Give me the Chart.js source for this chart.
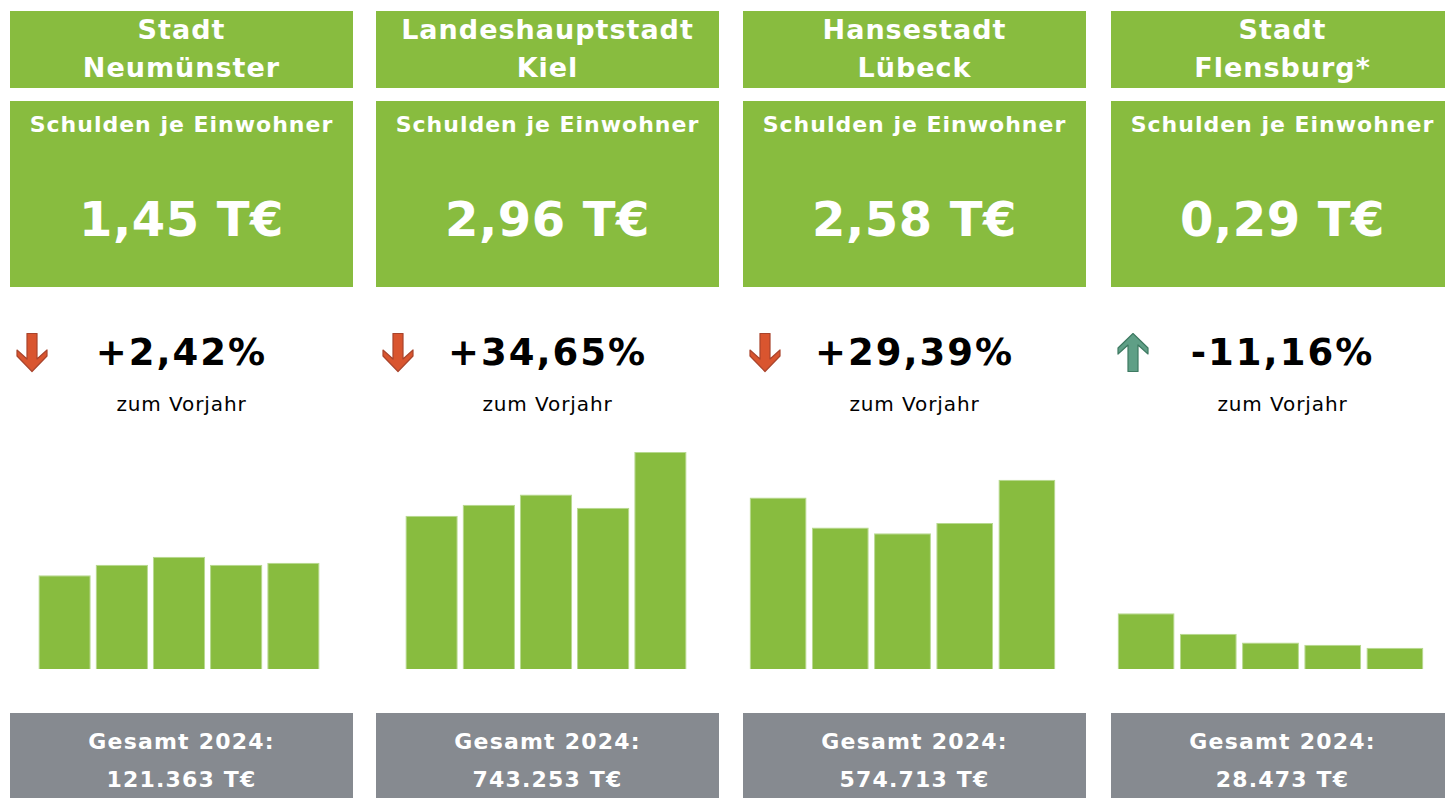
<!DOCTYPE html>
<html>
<head>
<meta charset="utf-8">
<script src="https://cdn.jsdelivr.net/npm/chart.js@4/dist/chart.umd.min.js"></script>
<style>
  html, body { margin: 0; padding: 0; background: #fff; }
  body { width: 1445px; height: 798px; overflow: hidden; position: relative;
         font-family: "DejaVu Sans", Verdana, sans-serif; }
  .box { position: absolute; background: #88bc3f; color: #fff; font-weight: bold; text-align: center; }
  .head { top: 11px; height: 77px; font-size: 27px; line-height: 38px; letter-spacing: 1px; }
  .value { top: 101px; height: 186px; }
  .value .lbl { position: absolute; left: 0; right: 0; top: 11px; font-size: 22px; letter-spacing: 1px; }
  .value .num { position: absolute; left: 0; right: 0; top: 90px; font-size: 48px; letter-spacing: 0.5px; }
  .pct { position: absolute; top: 331px; font-size: 37px; font-weight: bold; text-align: center; color: #000; letter-spacing: 2px; }
  .sub { position: absolute; top: 392px; font-size: 20px; text-align: center; color: #000; letter-spacing: 0.9px; }
  .arrow { position: absolute; top: 333px; }
  .foot { position: absolute; top: 713px; height: 100px; background: #868a90; color: #fff;
          font-weight: bold; text-align: center; font-size: 22px; line-height: 38px; letter-spacing: 1.2px; }
  .foot div:first-child { margin-top: 10px; }
  canvas { position: absolute; }
</style>
</head>
<body>
<script>
// --- DATA ---
const cityTop = ['Stadt', 'Landeshauptstadt', 'Hansestadt', 'Stadt'];
const cityName = ['Neumünster', 'Kiel', 'Lübeck', 'Flensburg*'];
const perResident = ['1,45 T€', '2,96 T€', '2,58 T€', '0,29 T€'];
const changePct = ['+2,42%', '+34,65%', '+29,39%', '-11,16%'];
const totals2024 = ['121.363 T€', '743.253 T€', '574.713 T€', '28.473 T€'];
const years = ['2020', '2021', '2022', '2023', '2024'];
// Schulden je Einwohner in T€
const neumuensterDebt = [1.28, 1.42, 1.53, 1.42, 1.45];
const kielDebt = [2.09, 2.24, 2.38, 2.20, 2.96];
const luebeckDebt = [2.34, 1.93, 1.85, 1.99, 2.58];
const flensburgDebt = [0.76, 0.48, 0.36, 0.33, 0.29];
const series = [neumuensterDebt, kielDebt, luebeckDebt, flensburgDebt];

// --- LAYOUT ---
const colLeft = [10, 376, 743, 1111];
const colWidth = 343;
const chartBox = [
    { left: 36, width: 286 },
    { left: 403, width: 286 },
    { left: 747, width: 311 },
    { left: 1115, width: 311 }
];

const downArrow = '<svg width="34" height="40" viewBox="0 0 34 40"><path d="M11 0.5 H21 V26 L31 17 V23 L16 38.5 L1 23 V17 L11 26 Z" fill="#d9552f" stroke="#a9442c" stroke-width="1.2" stroke-linejoin="round"/></svg>';
const upArrow = '<svg width="34" height="40" viewBox="0 0 34 40"><path d="M16 0.5 L31 15 V21 L21 12 V38.5 H11 V12 L1 21 V15 Z" fill="#5f9f86" stroke="#3e7a62" stroke-width="1.2" stroke-linejoin="round"/></svg>';

cityName.forEach((name, i) => {
    const x = colLeft[i];
    const html = `
      <div class="box head" style="left:${x}px;width:${colWidth}px"><div>${cityTop[i]}</div><div>${name}</div></div>
      <div class="box value" style="left:${x}px;width:${colWidth}px">
        <div class="lbl">Schulden je Einwohner</div>
        <div class="num">${perResident[i]}</div>
      </div>
      <div class="arrow" style="left:${x + 6}px">${changePct[i].startsWith('-') ? upArrow : downArrow}</div>
      <div class="pct" style="left:${x}px;width:${colWidth}px">${changePct[i]}</div>
      <div class="sub" style="left:${x}px;width:${colWidth}px">zum Vorjahr</div>
      <div class="foot" style="left:${x}px;width:${colWidth}px"><div>Gesamt 2024:</div><div>${totals2024[i]}</div></div>`;
    document.body.insertAdjacentHTML('beforeend', html);

    const cv = document.createElement('canvas');
    cv.width = chartBox[i].width;
    cv.height = 220;
    cv.style.left = chartBox[i].left + 'px';
    cv.style.top = '449px';
    document.body.appendChild(cv);

    new Chart(cv.getContext('2d'), {
        type: 'bar',
        data: {
            labels: years,
            datasets: [{
                data: series[i],
                backgroundColor: '#88bc3f',
                borderColor: '#b7d98f',
                borderWidth: 1,
                categoryPercentage: 1,
                barPercentage: 0.915
            }]
        },
        options: {
            responsive: false,
            animation: false,
            layout: { padding: 0 },
            plugins: { legend: { display: false }, tooltip: { enabled: false } },
            scales: {
                x: { display: false },
                y: { display: false, min: 0, max: 3 }
            }
        }
    });
});
</script>
</body>
</html>
